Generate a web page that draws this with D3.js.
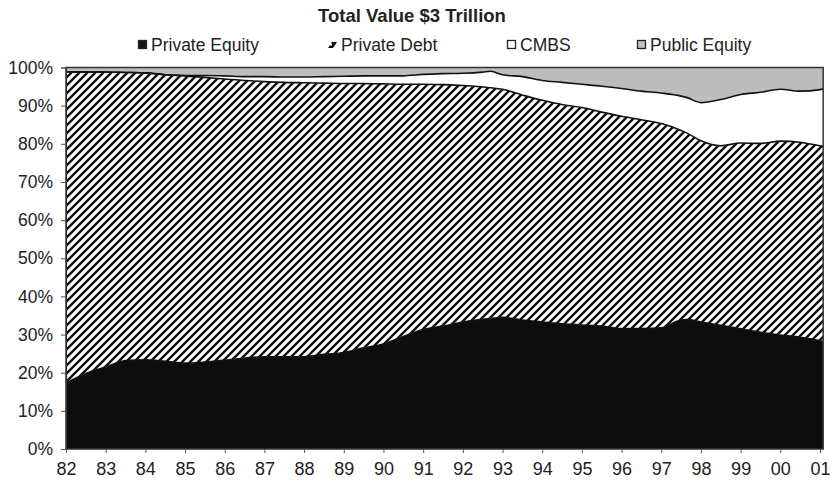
<!DOCTYPE html>
<html>
<head>
<meta charset="utf-8">
<script src="https://cdn.jsdelivr.net/npm/d3@7/dist/d3.min.js"></script>
<style>
  html, body { margin: 0; padding: 0; background: #fff; }
  svg { display: block; }
  text { font-family: "Liberation Sans", Arial, sans-serif; fill: #222; }
</style>
</head>
<body>
<svg id="chart" width="835" height="488"></svg>
<script>
// ---- Data (shares of total, %) ----
const years = [1982, 1982.5, 1983, 1983.5, 1984, 1984.5, 1985, 1985.5, 1986, 1986.5,
  1987, 1987.5, 1988, 1988.5, 1989, 1989.5, 1990, 1990.5, 1991, 1991.5,
  1992, 1992.5, 1992.7, 1993, 1993.5, 1994, 1994.5, 1995, 1995.5, 1996,
  1996.5, 1997, 1997.5, 1997.65, 1998, 1998.5, 1999, 1999.5, 2000, 2000.5,
  2001, 2001.08];
const privateEquity = [17.3, 19.8, 21.5, 23.2, 23.4, 23.0, 22.5, 22.8, 23.3, 23.8,
  24.2, 24.2, 24.2, 24.8, 25.3, 26.5, 27.5, 29.5, 31.3, 32.2,
  33.3, 34.0, 34.2, 34.5, 33.8, 33.3, 32.8, 32.5, 32.2, 31.6,
  31.6, 31.8, 33.8, 33.9, 33.3, 32.4, 31.5, 30.6, 29.9, 29.3,
  28.4, 28.2];
const privateDebt = [81.6, 79.0, 77.3, 75.5, 75.2, 75.1, 75.3, 74.6, 73.7, 72.8,
  72.1, 71.9, 71.8, 71.1, 70.5, 69.3, 68.2, 66.1, 64.3, 63.3,
  62.0, 60.9, 60.5, 59.8, 59.0, 58.1, 57.5, 57.0, 56.1, 55.6,
  54.7, 53.5, 49.7, 48.9, 47.5, 47.1, 48.7, 49.5, 50.8, 51.1,
  51.1, 51.2];
const cmbs = [0, 0, 0, 0, 0, 0, 0.1, 0.5, 0.8, 1.0,
  1.3, 1.4, 1.5, 1.7, 1.9, 2.0, 2.1, 2.2, 2.6, 2.9,
  3.2, 3.9, 4.3, 3.8, 4.8, 5.2, 5.8, 6.1, 6.8, 7.3,
  7.5, 8.0, 9.0, 9.3, 10.0, 12.1, 12.7, 13.4, 13.6, 13.4,
  14.7, 15.0];
const publicEquity = [1.1, 1.2, 1.2, 1.3, 1.4, 1.9, 2.1, 2.1, 2.2, 2.4,
  2.4, 2.5, 2.5, 2.4, 2.3, 2.2, 2.2, 2.2, 1.8, 1.6,
  1.5, 1.2, 1.0, 1.9, 2.4, 3.4, 3.9, 4.4, 4.9, 5.5,
  6.2, 6.7, 7.5, 7.9, 9.2, 8.4, 7.1, 6.5, 5.7, 6.2,
  5.8, 5.6];
const seriesNames = ["Private Equity", "Private Debt", "CMBS", "Public Equity"];
const xTickYears = d3.range(1982, 2002);
const xTickLabels = ["82","83","84","85","86","87","88","89","90","91","92","93","94","95","96","97","98","99","00","01"];
const yTicks = [0, 0.1, 0.2, 0.3, 0.4, 0.5, 0.6, 0.7, 0.8, 0.9, 1.0];
const title = "Total Value $3 Trillion";

// ---- Build table ----
const seriesValues = [privateEquity, privateDebt, cmbs, publicEquity];
const table = years.map((y, i) => {
  const row = { year: y };
  seriesNames.forEach((n, k) => row[n] = seriesValues[k][i]);
  return row;
});
const stacked = d3.stack().keys(seriesNames).offset(d3.stackOffsetExpand)(table);

// ---- Layout ----
const svg = d3.select("#chart");
const x = d3.scaleLinear().domain([1982, 2001]).range([66, 820]);
const y = d3.scaleLinear().domain([0, 1]).range([449, 67.5]);
const x0 = x(d3.min(years)), x1 = x(d3.max(years));

// patterns
const defs = svg.append("defs");
const pat = defs.append("pattern").attr("id", "hatch")
  .attr("patternUnits", "userSpaceOnUse").attr("width", 8).attr("height", 8);
pat.append("rect").attr("width", 8).attr("height", 8).attr("fill", "#fff");
pat.append("path").attr("d", "M-2,2 L2,-2 M0,8 L8,0 M6,10 L10,6")
  .attr("stroke", "#111").attr("stroke-width", 2.4);
const pat2 = defs.append("pattern").attr("id", "hatchIcon")
  .attr("patternUnits", "userSpaceOnUse").attr("width", 5).attr("height", 5);
pat2.append("rect").attr("width", 5).attr("height", 5).attr("fill", "#fff");
pat2.append("path").attr("d", "M-1,1 L1,-1 M0,5 L5,0 M4,6 L6,4")
  .attr("stroke", "#111").attr("stroke-width", 2.6);

// subtle noise filter for the scanned look
const filt = defs.append("filter").attr("id", "grain");
filt.append("feTurbulence").attr("type", "fractalNoise").attr("baseFrequency", 0.9)
  .attr("numOctaves", 1).attr("seed", 3).attr("result", "noise");
filt.append("feColorMatrix").attr("in", "noise").attr("type", "matrix")
  .attr("values", "0 0 0 0 0  0 0 0 0 0  0 0 0 0 0  0 0 0 0.12 0").attr("result", "na");
filt.append("feComposite").attr("in", "na").attr("in2", "SourceGraphic").attr("operator", "in").attr("result", "nm");
const fm = filt.append("feMerge");
fm.append("feMergeNode").attr("in", "SourceGraphic");
fm.append("feMergeNode").attr("in", "nm");

const fills = { "Private Equity": "#141414", "Private Debt": "url(#hatch)", "CMBS": "#ffffff", "Public Equity": "#c2c2c2" };

const area = d3.area().x(d => x(d.data.year)).y0(d => y(d[0])).y1(d => y(d[1])).curve(d3.curveMonotoneX);
const line = d3.line().x(d => x(d.data.year)).y(d => y(d[1])).curve(d3.curveMonotoneX);

const g = svg.append("g");
g.selectAll("path.area").data(stacked).join("path")
  .attr("class", "area")
  .attr("d", area)
  .attr("fill", d => fills[d.key])
  .attr("filter", d => (d.key === "Private Equity" || d.key === "Public Equity") ? "url(#grain)" : null);

// boundary lines (top of each of the first three layers)
g.selectAll("path.edge").data(stacked.slice(0, 3)).join("path")
  .attr("class", "edge")
  .attr("d", line)
  .attr("fill", "none").attr("stroke", "#111").attr("stroke-width", 1.6);

// frame
svg.append("rect").attr("x", x0).attr("y", y(1)).attr("width", x1 - x0).attr("height", y(0) - y(1))
  .attr("fill", "none").attr("stroke", "#333").attr("stroke-width", 1.5);

// y axis
const yAxis = svg.append("g").attr("transform", `translate(${x0},0)`)
  .call(d3.axisLeft(y).tickValues(yTicks).tickFormat(d3.format(".0%")).tickSize(5).tickPadding(8));
yAxis.select(".domain").attr("stroke", "#333").attr("stroke-width", 1.2);
yAxis.selectAll(".tick line").attr("stroke", "#555");
yAxis.selectAll("text").style("font-size", "17.5px").attr("fill", "#222");

// x axis
const xAxis = svg.append("g").attr("transform", `translate(0,${y(0)})`)
  .call(d3.axisBottom(x).tickValues(xTickYears).tickFormat((d, i) => xTickLabels[i]).tickSize(4).tickPadding(9));
xAxis.select(".domain").remove();
xAxis.selectAll(".tick line").attr("stroke", "#555");
xAxis.selectAll("text").style("font-size", "18px").attr("fill", "#222");

// title
svg.append("text").attr("x", 412).attr("y", 22).attr("text-anchor", "middle")
  .style("font-size", "18.5px").style("font-weight", "bold").text(title);

// legend
const legendX = [138, 328, 507, 637];
const leg = svg.append("g");
seriesNames.forEach((n, i) => {
  const lx = legendX[i];
  if (n === "Private Debt") {
    leg.append("path").attr("d", `M${lx},${48} L${lx+4},${42} L${lx+9},${42} L${lx+5},${48} Z`)
      .attr("fill", "#111");
    leg.append("rect").attr("x", lx + 1).attr("y", 43.5).attr("width", 3).attr("height", 2).attr("fill", "#fff");
  } else {
    leg.append("rect").attr("x", lx + 0.5).attr("y", 40.5).attr("width", 8).attr("height", 8)
      .attr("fill", fills[n]).attr("stroke", "#222").attr("stroke-width", 1.3);
  }
  leg.append("text").attr("x", lx + 13).attr("y", 50.5).style("font-size", "17.5px").text(n);
});
</script>
</body>
</html>
